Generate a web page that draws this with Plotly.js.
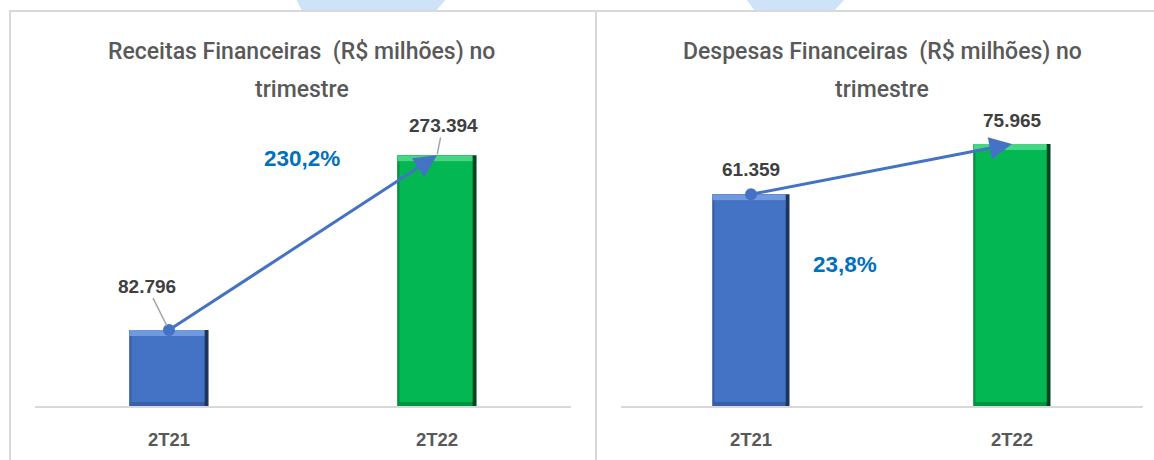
<!DOCTYPE html>
<html>
<head>
<meta charset="utf-8">
<script src="https://cdn.plot.ly/plotly-3.0.1.min.js"></script>
<style>html,body{margin:0;padding:0;background:#fff;}#chart{width:1154px;height:460px;}</style>
</head>
<body>
<div id="chart"></div>
<script>
// ---- data ----
var categories = ['2T21', '2T22'];
var receitas = [82.796, 273.394];
var despesas = [61.359, 75.965];
var titleReceitas = ['Receitas Financeiras\u00A0 (R$ milhões) no', 'trimestre'];
var titleDespesas = ['Despesas Financeiras\u00A0 (R$ milhões) no', 'trimestre'];

// ---- helpers ----
var W = 1154, H = 460;
function px(x) { return x / W; }
function py(y) { return 1 - y / H; }
function fmtVal(v) { return v.toFixed(3); }
function fmtPct(a, b) { return ((b / a - 1) * 100).toFixed(1).replace('.', ',') + '%'; }

var FONT = 'Liberation Sans, Arial, sans-serif';
var PLOT_TOP = 100, PLOT_BOTTOM = 406;
var RANGE_L = 333.7, RANGE_R = 88.7;

// bevel palettes: [right edge (darkest), bottom edge, main, top highlight]
var bluePal = ['#1F355E', '#3860A6', '#4472C4', '#7199DF'];
var greenPal = ['#00431F', '#009440', '#03B852', '#45D584'];
var BW = 0.295;              // bar width in category units
var UPX = BW / 79;           // category units per pixel

function bevelTraces(vals, xa, ya, rangeMax) {
  var dpp = rangeMax / (PLOT_BOTTOM - PLOT_TOP); // data units per pixel
  var pals = [bluePal, greenPal];
  function layer(idx, offPx, widthPx, bases, heights) {
    return {
      type: 'bar', x: categories, y: heights, base: bases, xaxis: xa, yaxis: ya,
      offset: -BW / 2 + offPx * UPX, width: (widthPx * UPX),
      marker: { color: pals.map(function (p) { return p[idx]; }), line: { width: 0 } },
      hoverinfo: 'skip'
    };
  }
  var zeros = vals.map(function () { return 0; });
  var bottom = 4 * dpp, topStrip = 6 * dpp;
  return [
    layer(0, 0, 79, zeros, vals),
    layer(1, 0, 75, zeros, vals),
    layer(2, 2, 73, vals.map(function () { return bottom; }), vals.map(function (v) { return v - bottom - topStrip; })),
    layer(3, 0, 75, vals.map(function (v) { return v - topStrip; }), vals.map(function () { return topStrip; }))
  ];
}
function dotTrace(vals, xa, ya) {
  return {
    type: 'scatter', mode: 'markers', x: [categories[0]], y: [vals[0]], xaxis: xa, yaxis: ya,
    marker: { color: '#4472C4', size: 12 }, hoverinfo: 'skip'
  };
}

var data = []
  .concat(bevelTraces(receitas, 'x', 'y', RANGE_L))
  .concat([dotTrace(receitas, 'x', 'y')])
  .concat(bevelTraces(despesas, 'x2', 'y2', RANGE_R))
  .concat([dotTrace(despesas, 'x2', 'y2')]);

var tickfont = { family: FONT, size: 18.5, color: '#595959', weight: 'bold' };
function xaxisDef(d0, d1, anchor) {
  return {
    domain: [px(d0), px(d1)], anchor: anchor, type: 'category', range: [-0.5, 1.5],
    showline: true, linecolor: '#D9D9D9', linewidth: 2, showgrid: false, zeroline: false,
    ticks: '', ticklabelstandoff: 16, tickfont: tickfont, fixedrange: true
  };
}
function yaxisDef(max, anchor) {
  return {
    domain: [py(PLOT_BOTTOM), py(PLOT_TOP)], anchor: anchor, range: [0, max], visible: false, fixedrange: true
  };
}

var labelFont = { family: FONT, size: 19, color: '#404040', weight: 'bold' };
var pctFont = { family: FONT, size: 22.5, color: '#0070C0', weight: 'bold' };
var titleFont = { family: 'Roboto, Liberation Sans, sans-serif', size: 23, color: '#595959', weight: 500 };

var annotations = [
  // titles
  { xref: 'paper', yref: 'paper', x: px(301), y: py(51), text: titleReceitas[0], showarrow: false, font: titleFont, xanchor: 'center', yanchor: 'middle' },
  { xref: 'paper', yref: 'paper', x: px(302), y: py(89), text: titleReceitas[1], showarrow: false, font: titleFont, xanchor: 'center', yanchor: 'middle' },
  { xref: 'paper', yref: 'paper', x: px(882), y: py(51), text: titleDespesas[0], showarrow: false, font: titleFont, xanchor: 'center', yanchor: 'middle' },
  { xref: 'paper', yref: 'paper', x: px(882), y: py(89), text: titleDespesas[1], showarrow: false, font: titleFont, xanchor: 'center', yanchor: 'middle' },
  // growth arrows
  { xref: 'x', yref: 'y', axref: 'x', ayref: 'y', x: categories[1], y: receitas[1], ax: categories[0], ay: receitas[0],
    text: '', showarrow: true, arrowhead: 2, arrowsize: 1.5, arrowwidth: 3, arrowcolor: '#4472C4' },
  { xref: 'x2', yref: 'y2', axref: 'x2', ayref: 'y2', x: categories[1], y: despesas[1], ax: categories[0], ay: despesas[0],
    text: '', showarrow: true, arrowhead: 2, arrowsize: 1.5, arrowwidth: 3, arrowcolor: '#4472C4' },
  // value labels
  { xref: 'x', yref: 'y', x: categories[0], y: receitas[0], text: fmtVal(receitas[0]), font: labelFont,
    showarrow: true, arrowhead: 0, arrowwidth: 1.5, arrowcolor: '#A6A6A6', ax: -22, ay: -44, standoff: 5 },
  { xref: 'x', yref: 'y', x: categories[1], y: receitas[1], text: fmtVal(receitas[1]), font: labelFont,
    showarrow: true, arrowhead: 0, arrowwidth: 1.5, arrowcolor: '#A6A6A6', ax: 6, ay: -30, standoff: 1 },
  { xref: 'x2', yref: 'y2', x: categories[0], y: despesas[0], text: fmtVal(despesas[0]), font: labelFont,
    showarrow: false, yshift: 25 },
  { xref: 'x2', yref: 'y2', x: categories[1], y: despesas[1], text: fmtVal(despesas[1]), font: labelFont,
    showarrow: false, yshift: 23 },
  // percent labels
  { xref: 'paper', yref: 'paper', x: px(262), y: py(158), text: fmtPct(receitas[0], receitas[1]), font: pctFont, showarrow: false },
  { xref: 'paper', yref: 'paper', x: px(879), y: py(264), text: fmtPct(despesas[0], despesas[1]), font: pctFont, showarrow: false }
];

function para(xt0, xt1, xb0, xb1, yt, yb) {
  return 'M' + px(xt0) + ',' + py(yt) + ' L' + px(xt1) + ',' + py(yt) + ' L' + px(xb1) + ',' + py(yb) + ' L' + px(xb0) + ',' + py(yb) + ' Z';
}
var borderCol = '#D9D9D9';
var shapes = [
  { type: 'path', xref: 'paper', yref: 'paper', path: para(296, 446, 302, 436, -1, 11), fillcolor: '#CFE3F8', line: { width: 0 }, layer: 'below' },
  { type: 'path', xref: 'paper', yref: 'paper', path: para(746, 845, 755, 834, -1, 11), fillcolor: '#CFE3F8', line: { width: 0 }, layer: 'below' },
  { type: 'line', xref: 'paper', yref: 'paper', x0: px(9), x1: px(1160), y0: py(11), y1: py(11), line: { color: borderCol, width: 2 } },
  { type: 'line', xref: 'paper', yref: 'paper', x0: px(10), x1: px(10), y0: py(11), y1: py(470), line: { color: borderCol, width: 2 } },
  { type: 'line', xref: 'paper', yref: 'paper', x0: px(596), x1: px(596), y0: py(11), y1: py(470), line: { color: borderCol, width: 2 } }
];

var layout = {
  width: W, height: H, margin: { l: 0, r: 0, t: 0, b: 0 },
  paper_bgcolor: '#FFFFFF', plot_bgcolor: 'rgba(0,0,0,0)',
  showlegend: false, barmode: 'overlay',
  xaxis: xaxisDef(35, 571, 'y'),
  yaxis: yaxisDef(RANGE_L, 'x'),
  xaxis2: xaxisDef(620.5, 1142.5, 'y2'),
  yaxis2: yaxisDef(RANGE_R, 'x2'),
  annotations: annotations,
  shapes: shapes,
  font: { family: FONT }
};

Plotly.newPlot('chart', data, layout, { staticPlot: true, displayModeBar: false });
</script>
</body>
</html>
